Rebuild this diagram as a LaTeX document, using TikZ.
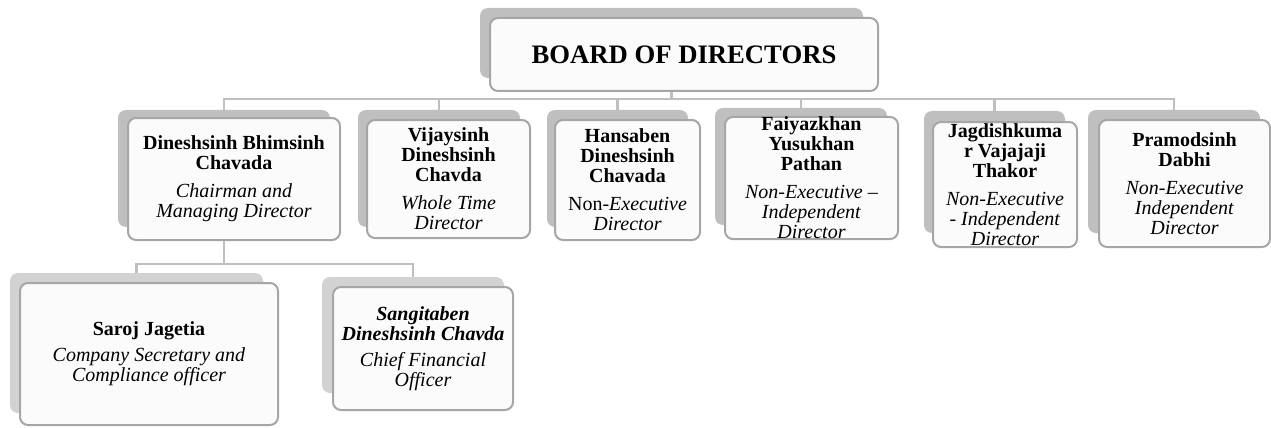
\documentclass[tikz,border=0pt]{standalone}
\usepackage{fontspec}
\setmainfont{Liberation Serif}

\begin{document}
\begin{tikzpicture}[x=0.75pt,y=-0.75pt,
  boxsize/.style 2 args={minimum width=#1*0.75pt,minimum height=#2*0.75pt},
  back/.style={rectangle,rounded corners=6pt,fill=gray!50,inner sep=0pt},
  backlight/.style={back,fill=gray!35},
  card/.style={rectangle,rounded corners=6pt,draw=gray!70,line width=1.5pt,fill=gray!3,inner sep=0pt,align=center,font=\fontsize{15}{15}\selectfont},
  link/.style={draw=gray!50,line width=1.8pt}]
\useasboundingbox (0,0) rectangle (1271,428);

% top
\node[back,boxsize={383}{70}] (board-s) at (671.5,43) {};
\node[card,boxsize={388}{73},font=\fontsize{20}{24}\selectfont\bfseries] (board) at (684,54.5) {BOARD OF DIRECTORS};

% directors
\node[back,boxsize={212}{117}] (dinesh-s) at (224,168.5) {};
\node[card,boxsize={212}{122}] (dinesh) at (234,179) {\textbf{Dineshsinh Bhimsinh}\\\textbf{Chavada}\\[6pt]\textit{Chairman and}\\\textit{Managing Director}};
\node[back,boxsize={162}{117}] (vijay-s) at (439,168.5) {};
\node[card,boxsize={163}{118}] (vijay) at (448.5,179) {\textbf{Vijaysinh}\\\textbf{Dineshsinh}\\\textbf{Chavda}\\[6pt]\textit{Whole Time}\\\textit{Director}};
\node[back,boxsize={141}{117}] (hansa-s) at (617.5,168.5) {};
\node[card,boxsize={145}{120}] (hansa) at (627.5,180) {\textbf{Hansaben}\\\textbf{Dineshsinh}\\\textbf{Chavada}\\[6pt]Non-\textit{Executive}\\\textit{Director}};
\node[back,boxsize={172}{117}] (faiyaz-s) at (801,166.5) {};
\node[card,boxsize={173}{120}] (faiyaz) at (811.5,178) {\textbf{Faiyazkhan}\\\textbf{Yusukhan}\\\textbf{Pathan}\\[6pt]\textit{Non-Executive –}\\\textit{Independent}\\\textit{Director}};
\node[back,boxsize={141}{122}] (jagdish-s) at (994.5,172) {};
\node[card,boxsize={144}{125}] (jagdish) at (1005,184.5) {\textbf{Jagdishkuma}\\\textbf{r Vajajaji}\\\textbf{Thakor}\\[6pt]\textit{Non-Executive}\\\textit{- Independent}\\\textit{Director}};
\node[back,boxsize={172}{123}] (pramod-s) at (1174,171.5) {};
\node[card,boxsize={171}{127}] (pramod) at (1184.5,183.5) {\textbf{Pramodsinh}\\\textbf{Dabhi}\\[6pt]\textit{Non-Executive}\\\textit{Independent}\\\textit{Director}};

% officers
\node[backlight,boxsize={253}{140}] (saroj-s) at (136.5,343) {};
\node[card,boxsize={258}{142}] (saroj) at (149,354) {\textbf{Saroj Jagetia}\\[4.5pt]\textit{Company Secretary and}\\\textit{Compliance officer}};
\node[backlight,boxsize={182}{116}] (sangita-s) at (413,335) {};
\node[card,boxsize={180}{123}] (sangita) at (423,348.5) {\textbf{\textit{Sangitaben}}\\\textbf{\textit{Dineshsinh Chavda}}\\[4.5pt]\textit{Chief Financial}\\\textit{Officer}};

% lines
\draw[link] (board-s.south |- board.south) -- ++(0,7) coordinate (hub);
\foreach \n in {dinesh,vijay,hansa,faiyaz,jagdish,pramod}
  \draw[link] (hub) -| (\n-s.north);
\draw[link] (dinesh-s.south |- dinesh.south) -- ++(0,23) coordinate (hub2);
\foreach \n in {saroj,sangita}
  \draw[link] (hub2) -| (\n-s.north);
\end{tikzpicture}
\end{document}
